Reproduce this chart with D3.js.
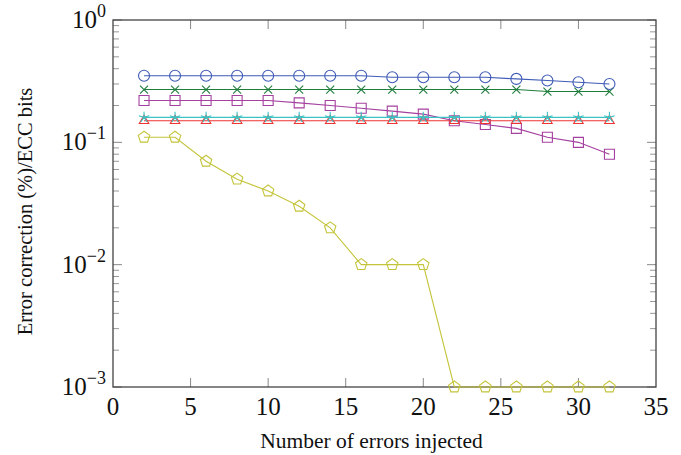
<!DOCTYPE html>
<html>
<head>
<meta charset="utf-8">
<script src="https://cdn.jsdelivr.net/npm/d3@7"></script>
<style>
  body { margin: 0; background: #fff; }
  text { font-family: "Liberation Serif", "DejaVu Serif", serif; fill: #111; }
</style>
</head>
<body>
<script>
// x values (number of errors injected)
var xs = [2, 4, 6, 8, 10, 12, 14, 16, 18, 20, 22, 24, 26, 28, 30, 32];

// series (log scale)
var blueCircle   = [0.35, 0.35, 0.35, 0.35, 0.35, 0.35, 0.35, 0.35, 0.34, 0.34, 0.34, 0.34, 0.33, 0.32, 0.31, 0.30];
var greenCross   = [0.27, 0.27, 0.27, 0.27, 0.27, 0.27, 0.27, 0.27, 0.27, 0.27, 0.27, 0.27, 0.27, 0.26, 0.26, 0.26];
var magentaSq    = [0.22, 0.22, 0.22, 0.22, 0.22, 0.21, 0.20, 0.19, 0.18, 0.17, 0.15, 0.14, 0.13, 0.11, 0.10, 0.08];
var cyanStar     = [0.16, 0.16, 0.16, 0.16, 0.16, 0.16, 0.16, 0.16, 0.16, 0.16, 0.16, 0.16, 0.16, 0.16, 0.16, 0.16];
var redTriangle  = [0.15, 0.15, 0.15, 0.15, 0.15, 0.15, 0.15, 0.15, 0.15, 0.15, 0.15, 0.15, 0.15, 0.15, 0.15, 0.15];
var yellowPent   = [0.11, 0.11, 0.07, 0.05, 0.04, 0.03, 0.02, 0.01, 0.01, 0.01, 0.001, 0.001, 0.001, 0.001, 0.001, 0.001];

var xTicks = [0, 5, 10, 15, 20, 25, 30, 35];
var yTicks = [1e-3, 1e-2, 1e-1, 1];
var yTickLabels = ["\u22123", "\u22122", "\u22121", "0"];

var series = [
  { values: yellowPent,  color: "#c4c43a", mark: "pentagon" },
  { values: magentaSq,   color: "#a4409f", mark: "square" },
  { values: redTriangle, color: "#ee3333", mark: "triangle" },
  { values: cyanStar,    color: "#3cc2c2", mark: "star" },
  { values: greenCross,  color: "#1f7d3c", mark: "cross" },
  { values: blueCircle,  color: "#3f5bb5", mark: "circle" }
];

var W = 681, H = 455;
var pL = 113, pR = 656, pT = 20, pB = 387;

var svg = d3.select("body").append("svg")
  .attr("width", W).attr("height", H);

var x = d3.scaleLinear().domain([0, 35]).range([pL, pR]);
var y = d3.scaleLog().domain([1e-3, 1]).range([pB, pT]);

// minor ticks for the log axis
var minor = [];
[1e-3, 1e-2, 1e-1].forEach(function (d) {
  for (var k = 2; k <= 9; k++) minor.push(d * k);
});

var axisCol = "#444";
var g = svg.append("g");

// ticks pointing inward on all four sides
xTicks.forEach(function (t) {
  if (t === 0 || t === 35) return;
  g.append("line").attr("x1", x(t)).attr("x2", x(t)).attr("y1", pB).attr("y2", pB - 9)
    .attr("stroke", "#888").attr("stroke-width", 1);
  g.append("line").attr("x1", x(t)).attr("x2", x(t)).attr("y1", pT).attr("y2", pT + 9)
    .attr("stroke", "#888").attr("stroke-width", 1);
});
yTicks.forEach(function (t) {
  g.append("line").attr("x1", pL).attr("x2", pL + 9).attr("y1", y(t)).attr("y2", y(t))
    .attr("stroke", "#888").attr("stroke-width", 1);
  g.append("line").attr("x1", pR).attr("x2", pR - 9).attr("y1", y(t)).attr("y2", y(t))
    .attr("stroke", "#888").attr("stroke-width", 1);
});
minor.forEach(function (t) {
  g.append("line").attr("x1", pL).attr("x2", pL + 6).attr("y1", y(t)).attr("y2", y(t))
    .attr("stroke", "#999").attr("stroke-width", 1);
  g.append("line").attr("x1", pR).attr("x2", pR - 6).attr("y1", y(t)).attr("y2", y(t))
    .attr("stroke", "#999").attr("stroke-width", 1);
});

// frame
svg.append("rect")
  .attr("x", pL).attr("y", pT)
  .attr("width", pR - pL).attr("height", pB - pT)
  .attr("fill", "none").attr("stroke", axisCol).attr("stroke-width", 1.3);

// tick labels
xTicks.forEach(function (t) {
  svg.append("text")
    .attr("x", x(t)).attr("y", pB + 28)
    .attr("text-anchor", "middle")
    .style("font-size", "25px")
    .text(t);
});
yTicks.forEach(function (t, i) {
  var tx = svg.append("text")
    .attr("x", pL - 7).attr("y", y(t) + 8)
    .attr("text-anchor", "end")
    .style("font-size", "25px");
  tx.append("tspan").text("10");
  tx.append("tspan").attr("dy", -11).style("font-size", "18px").text(yTickLabels[i]);
});

// axis labels
svg.append("text")
  .attr("x", (pL + pR) / 2 - 13).attr("y", 448)
  .attr("text-anchor", "middle")
  .style("font-size", "21.5px")
  .text("Number of errors injected");

svg.append("text")
  .attr("transform", "translate(32," + ((pT + pB) / 2 + 8) + ") rotate(-90)")
  .attr("text-anchor", "middle")
  .style("font-size", "20.5px")
  .text("Error correction (%)/ECC bits");

// marks
var line = d3.line()
  .x(function (d, i) { return x(xs[i]); })
  .y(function (d) { return y(d); });

function polygon(n, r, rot) {
  var pts = [];
  for (var k = 0; k < n; k++) {
    var a = rot + k * 2 * Math.PI / n;
    pts.push([r * Math.cos(a), r * Math.sin(a)]);
  }
  return "M" + pts.map(function (p) { return p[0].toFixed(2) + "," + p[1].toFixed(2); }).join("L") + "Z";
}

var markPath = {
  circle: function () { return d3.symbol().type(d3.symbolCircle).size(Math.PI * 5.5 * 5.5)(); },
  square: function () { return "M-5,-5L5,-5L5,5L-5,5Z"; },
  triangle: function () { return polygon(3, 5.5, -Math.PI / 2); },
  pentagon: function () { return polygon(5, 6, -Math.PI / 2); },
  cross: function () { return "M-4,-4L4,4M-4,4L4,-4"; },
  star: function () {
    var s = "";
    for (var k = 0; k < 5; k++) {
      var a = -Math.PI / 2 + k * 2 * Math.PI / 5;
      s += "M0,0L" + (5.5 * Math.cos(a)).toFixed(2) + "," + (5.5 * Math.sin(a)).toFixed(2);
    }
    return s;
  }
};

series.forEach(function (s) {
  var sg = svg.append("g");
  sg.append("path")
    .datum(s.values)
    .attr("d", line)
    .attr("fill", "none")
    .attr("stroke", s.color)
    .attr("stroke-width", 1.1);
  sg.selectAll("path.mk")
    .data(s.values)
    .enter()
    .append("path")
    .attr("class", "mk")
    .attr("transform", function (d, i) { return "translate(" + x(xs[i]) + "," + y(d) + ")"; })
    .attr("d", markPath[s.mark]())
    .attr("fill", "none")
    .attr("stroke", s.color)
    .attr("stroke-width", 1.1);
});
</script>
</body>
</html>
